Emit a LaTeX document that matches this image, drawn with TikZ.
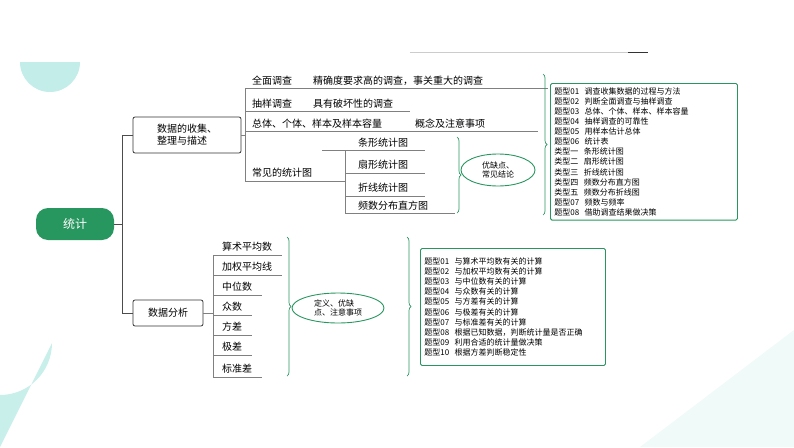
\documentclass[tikz,border=0pt]{standalone}
\usepackage{fontspec}
\setmainfont{Noto Sans CJK SC}
\usetikzlibrary{decorations.pathreplacing,shapes.geometric}
\definecolor{gr}{RGB}{40,150,95}
\definecolor{tl}{RGB}{120,215,205}
\begin{document}
\begin{tikzpicture}[x=1pt,y=-1pt,
 ln/.style={draw=black!70,line width=0.6pt},
 ul/.style={draw=black!50,line width=0.5pt},
 bx/.style={draw=black!80,rounded corners=2pt,line width=0.8pt,font=\fontsize{10}{12}\selectfont,align=left,inner sep=5pt},
 tx/.style={font=\fontsize{10}{11}\selectfont,anchor=base west,inner sep=0pt},
 gov/.style={ellipse,draw=gr,line width=0.9pt,font=\fontsize{8}{9.5}\selectfont,align=left,inner sep=1pt},
 brc/.style={draw=gr,line width=0.7pt,decorate,decoration={brace,amplitude=4pt}},
 lst/.style={draw=gr,line width=0.9pt,rounded corners=1.5pt,font=\fontsize{8}{10.1}\selectfont,align=left,inner sep=4pt,anchor=north west}]
\useasboundingbox (0,0) rectangle (794,447);
% decorations
\fill[tl!45] (20,62) arc[start angle=180,end angle=0,radius=30] -- cycle;
\fill[tl!40] (0,395) arc[start angle=90,end angle=0,radius=52] -- (0,447) -- cycle;
\fill[tl!12] (794,330) -- (794,447) -- (640,447) -- cycle;
\draw[black!20] (410,52) -- (628,52);
\draw[black!80,line width=1pt] (628,52) -- (648,52);
% root
\node[fill=gr,rounded corners=12pt,minimum width=78pt,minimum height=32pt,text=white,font=\fontsize{12}{14}\selectfont] (root) at (75,224) {统计};
\node[bx,minimum width=108pt,minimum height=36pt] (a) at (187,135) {数据的收集、\\整理与描述};
\node[bx,minimum width=70pt,minimum height=26pt] (b) at (168,313) {数据分析};
\coordinate (t1) at (122,135); \coordinate (t2) at (122,313);
\draw[ln] (root.east) -- (122,224);
\draw[ln] (a.west) -- (t1) -- (t2) -- (b.west);
% upper branches
\coordinate (v1) at (245,88); \coordinate (v2) at (245,181);
\draw[ul] (a.east) -- (245,135);
\draw[ul] (v1) -- (v2);
\draw[ul] (v1) -- (548,88);
\draw[ul] (245,111) -- (410,111);
\draw[ul] (245,131) -- (538,131);
\draw[ul] (v2) -- (345,181);
\node[tx] (q1) at (252,84) {全面调查};
\node[tx] (q1b) at (313,84) {精确度要求高的调查，事关重大的调查};
\node[tx] (q2) at (252,107) {抽样调查};
\node[tx] (q2b) at (313,107) {具有破坏性的调查};
\node[tx] (q3) at (252,127) {总体、个体、样本及样本容量};
\node[tx] (q3b) at (415,127) {概念及注意事项};
\node[tx] (q4) at (252,176) {常见的统计图};
\draw[ul] (345,150) -- (345,213);
\draw[ul] (322,150) -- (425,150);
\draw[ul] (345,173) -- (425,173);
\draw[ul] (345,196) -- (425,196);
\draw[ul] (345,213) -- (455,213);
\node[tx] (s1) at (358,146) {条形统计图};
\node[tx] (s2) at (358,168) {扇形统计图};
\node[tx] (s3) at (358,191) {折线统计图};
\node[tx] (s4) at (358,209) {频数分布直方图};
\draw[brc] (457,137) -- (457,213);
\node[gov,minimum width=74pt,minimum height=32pt] (e1) at (498,170) {优缺点、\\常见结论};
\draw[brc] (543,74) -- (543,215);
\node[lst,text width=179pt,minimum height=132pt] (L1) at (550,83) {题型01\ \ 调查收集数据的过程与方法\\题型02\ \ 判断全面调查与抽样调查\\题型03\ \ 总体、个体、样本、样本容量\\题型04\ \ 抽样调查的可靠性\\题型05\ \ 用样本估计总体\\题型06\ \ 统计表\\类型一\ \ 条形统计图\\类型二\ \ 扇形统计图\\类型三\ \ 折线统计图\\类型四\ \ 频数分布直方图\\类型五\ \ 频数分布折线图\\题型07\ \ 频数与频率\\题型08\ \ 借助调查结果做决策};
% lower branches
\draw[ul] (b.east) -- (213,313);
\draw[ul] (213,255) -- (213,377);
\foreach \y/\e in {255/282,275/282,295/262,315/252,335/252,355/252,377/262} \draw[ul] (213,\y) -- (\e,\y);
\node[tx] (d1) at (222,250) {算术平均数};
\node[tx] (d2) at (222,270) {加权平均线};
\node[tx] (d3) at (222,290) {中位数};
\node[tx] (d4) at (222,310) {众数};
\node[tx] (d5) at (222,330) {方差};
\node[tx] (d6) at (222,350) {极差};
\node[tx] (d7) at (222,372) {标准差};
\draw[brc] (287,237) -- (287,376);
\node[gov,minimum width=92pt,minimum height=30pt] (e2) at (338,308) {定义、优缺\\点、注意事项};
\draw[brc] (407,237) -- (407,376);
\node[lst,text width=177pt,minimum height=117pt] (L2) at (420,248) {题型01\ \ 与算术平均数有关的计算\\题型02\ \ 与加权平均数有关的计算\\题型03\ \ 与中位数有关的计算\\题型04\ \ 与众数有关的计算\\题型05\ \ 与方差有关的计算\\题型06\ \ 与极差有关的计算\\题型07\ \ 与标准差有关的计算\\题型08\ \ 根据已知数据，判断统计量是否正确\\题型09\ \ 利用合适的统计量做决策\\题型10\ \ 根据方差判断稳定性};
\end{tikzpicture}
\end{document}
